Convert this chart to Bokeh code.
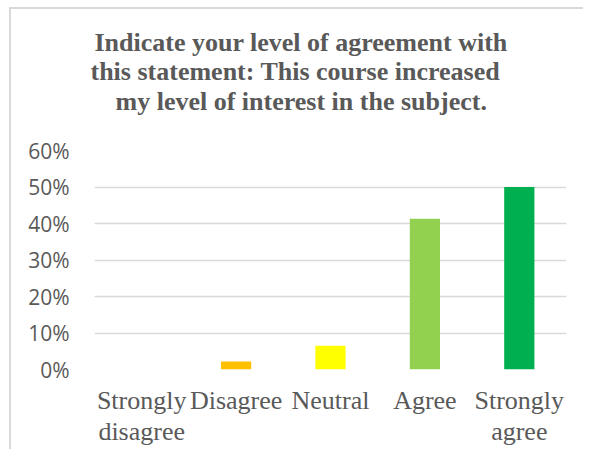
from bokeh.plotting import figure
from bokeh.models import (FactorRange, Range1d, NumeralTickFormatter, FixedTicker, Title,
                          CategoricalAxis, ColumnDataSource, CustomJSTickFormatter)
from bokeh.embed import file_html
from bokeh.resources import INLINE

categories = ["Strongly disagree", "Disagree", "Neutral", "Agree", "Strongly agree"]
tick_line1 = ["Strongly", "Disagree", "Neutral", "Agree", "Strongly"]
tick_line2 = ["disagree", "", "", "", "agree"]
shares = [0.0, 0.022, 0.065, 0.413, 0.50]
colors = ["#FF0000", "#FFC000", "#FFFF00", "#92D050", "#00B050"]
y_ticks = [0.0, 0.1, 0.2, 0.3, 0.4, 0.5, 0.6]
title_lines = ["Indicate your level of agreement with",
               "this statement: This course increased",
               "my level of interest in the subject."]

GRAY = "#595959"
SERIF = "Liberation Serif"

p = figure(x_range=FactorRange(*categories, range_padding=0),
           y_range=Range1d(0, 0.6),
           frame_width=472, frame_height=219,
           min_border_left=83, min_border_right=17, min_border_top=141, min_border_bottom=80,
           output_backend="svg", toolbar_location=None, tools="")
p.styles = {"border-left": "2px solid #d9d9d9", "border-top": "2px solid #d9d9d9",
            "margin-left": "9px", "margin-top": "7px"}
p.outline_line_color = None
p.background_fill_color = "white"

src = ColumnDataSource(dict(cat=categories, val=shares, col=colors))
p.vbar(x="cat", top="val", width=0.32, fill_color="col", line_color=None, source=src)

p.yaxis.ticker = FixedTicker(ticks=y_ticks)
p.yaxis.formatter = NumeralTickFormatter(format="0%")
p.yaxis.major_label_text_font = "Open Sans"
p.yaxis.major_label_text_font_size = "21px"
p.yaxis.major_label_text_color = GRAY
p.yaxis.major_label_standoff = 19
p.yaxis.axis_line_color = None
p.yaxis.major_tick_line_color = None
p.yaxis.minor_tick_line_color = None

def style_x(ax, standoff, labels):
    ax.formatter = CustomJSTickFormatter(args=dict(labels=labels),
                                         code="return labels[index];")
    ax.major_label_text_font = SERIF
    ax.major_label_text_font_size = "26px"
    ax.major_label_text_color = GRAY
    ax.major_label_standoff = standoff
    ax.axis_line_color = None
    ax.major_tick_line_color = None
    ax.minor_tick_line_color = None

style_x(p.xaxis[0], 10, tick_line1)
ax2 = CategoricalAxis()
style_x(ax2, -7, tick_line2)
p.add_layout(ax2, "below")

p.xgrid.grid_line_color = None
p.ygrid.grid_line_color = "#d9d9d9"
p.ygrid.grid_line_width = 1.5

# spacer between the frame and the last title line
p.add_layout(Title(text=" ", standoff=4, text_font=SERIF, text_font_size="26px"), "above")
title_offsets = [0, -4, 21]
title_standoffs = [-2, -2, 0]
for line, off, so in reversed(list(zip(title_lines, title_offsets, title_standoffs))):
    p.add_layout(Title(text=line, align="left", offset=off, standoff=so,
                       text_font=SERIF, text_font_size="26px", text_font_style="bold",
                       text_color=GRAY), "above")

open("out.html", "w").write(file_html(p, INLINE))
